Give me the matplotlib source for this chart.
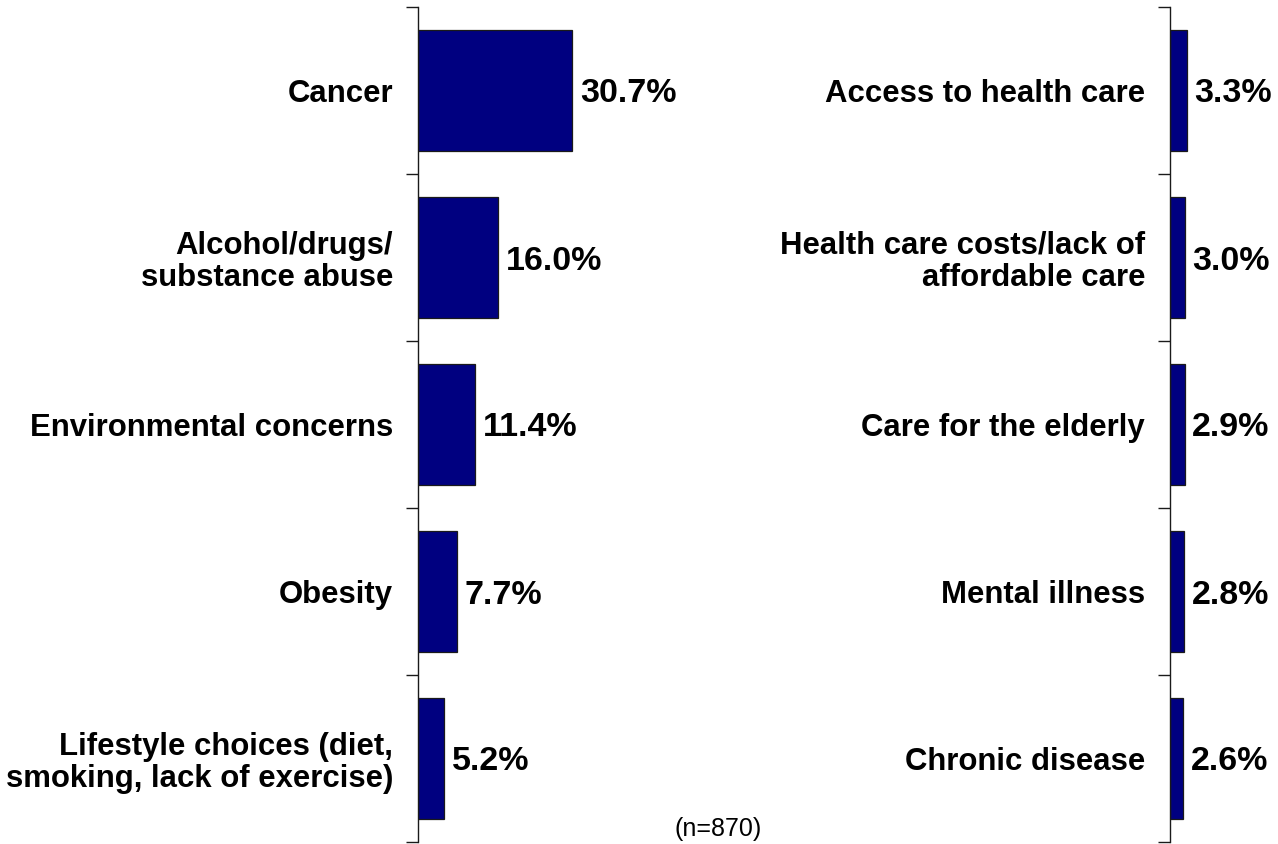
import matplotlib
matplotlib.use("Agg")
import matplotlib.pyplot as plt

left_cats = ["Cancer", "Alcohol/drugs/\nsubstance abuse", "Environmental concerns",
             "Obesity", "Lifestyle choices (diet,\nsmoking, lack of exercise)"]
left_vals = [30.7, 16.0, 11.4, 7.7, 5.2]
right_cats = ["Access to health care", "Health care costs/lack of\naffordable care",
              "Care for the elderly", "Mental illness", "Chronic disease"]
right_vals = [3.3, 3.0, 2.9, 2.8, 2.6]
note = "(n=870)"

plt.rcParams['font.family'] = ['Liberation Sans', 'DejaVu Sans']

W, H = 1278, 844
fig = plt.figure(figsize=(W / 100, H / 100), dpi=100)
PX_PER_UNIT = 5.02


def panel(x0_px, width_px, cats, vals):
    top_px, bot_px = 7, 842
    ax = fig.add_axes([x0_px / W, (H - bot_px) / H, width_px / W, (bot_px - top_px) / H])
    n = len(cats)
    ypos = list(range(n))
    ax.barh(ypos, vals, height=0.725, color="#000080", edgecolor="#1a1a1a", linewidth=0.9)
    ax.set_ylim(n - 0.5, -0.5)
    ax.set_xlim(0, width_px / PX_PER_UNIT)
    for s in ["top", "right", "bottom"]:
        ax.spines[s].set_visible(False)
    ax.spines["left"].set_color("#1a1a1a")
    ax.spines["left"].set_linewidth(1.0)
    ax.set_xticks([])
    ax.set_yticks([i - 0.5 for i in range(n + 1)])
    ax.set_yticklabels([])
    ax.tick_params(axis="y", which="major", length=8.5, width=1.0, color="#1a1a1a", direction="out")
    ax.set_yticks(ypos, minor=True)
    ax.set_yticklabels(cats, minor=True, fontsize=22.4, fontweight="bold")
    ax.tick_params(axis="y", which="minor", length=0, pad=18)
    for lab in ax.get_yticklabels(minor=True):
        lab.set_linespacing(1.08)
        lab.set_multialignment("right")
    for y, v in zip(ypos, vals):
        ax.annotate(f"{v:.1f}%", xy=(v, y), xytext=(5.5, 0), textcoords="offset points",
                    ha="left", va="center_baseline", fontsize=24.5, fontweight="bold")
    return ax


panel(418, 700, left_cats, left_vals)
panel(1170, 105, right_cats, right_vals)

fig.text(718 / W, (H - 836) / H, note, ha="center", va="baseline", fontsize=18)

fig.savefig("out.png", dpi=100)
